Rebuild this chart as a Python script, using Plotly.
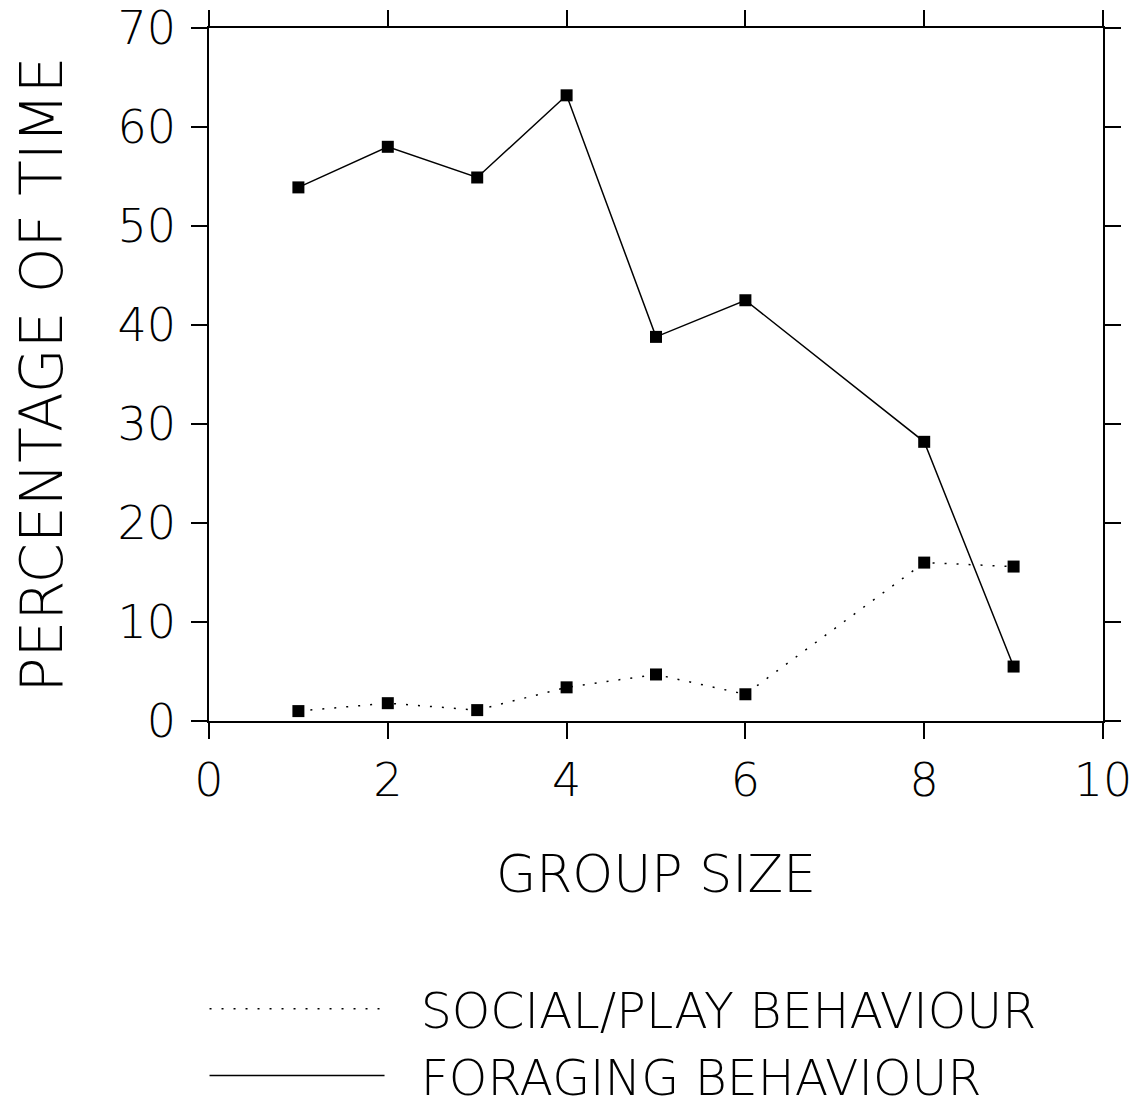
import plotly.graph_objects as go

group_size = [1, 2, 3, 4, 5, 6, 8, 9]
foraging = [53.9, 58.0, 54.9, 63.2, 38.8, 42.5, 28.2, 5.5]
social = [1.0, 1.8, 1.1, 3.4, 4.7, 2.7, 16.0, 15.6]
x_ticks = [0, 2, 4, 6, 8, 10]
y_ticks = [0, 10, 20, 30, 40, 50, 60, 70]

FONT = "DejaVu Sans"
W = 200
DOT = "2px,10px"
fig = go.Figure()

fig.add_trace(go.Scatter(x=group_size, y=foraging, mode="lines+markers",
                         line=dict(color="black", width=1.5),
                         marker=dict(symbol="square", size=12, color="black"),
                         showlegend=False))
fig.add_trace(go.Scatter(x=group_size, y=social, mode="lines+markers",
                         line=dict(color="black", width=1.5, dash=DOT),
                         marker=dict(symbol="square", size=12, color="black"),
                         showlegend=False))
# legend-only entries
fig.add_trace(go.Scatter(x=[None], y=[None], mode="lines", name="\u00a0\u00a0SOCIAL/PLAY BEHAVIOUR",
                         line=dict(color="black", width=1.5, dash=DOT)))
fig.add_trace(go.Scatter(x=[None], y=[None], mode="lines", name="\u00a0\u00a0FORAGING BEHAVIOUR",
                         line=dict(color="black", width=1.5)))

axis_common = dict(showline=True, linecolor="black", linewidth=1.5, mirror="ticks",
                   ticks="outside", ticklen=16, tickwidth=1.5, tickcolor="black",
                   showgrid=False, zeroline=False, automargin=False,
                   ticklabeloverflow="allow",
                   tickfont=dict(family=FONT, size=46, color="black", weight=W))

fig.update_xaxes(range=[0, 10], tickvals=x_ticks, ticktext=[str(v) for v in x_ticks],
                 ticklabelstandoff=2,
                 title=dict(text="GROUP SIZE", font=dict(family=FONT, size=52, color="black", weight=W),
                            standoff=50),
                 **axis_common)
fig.update_yaxes(range=[0, 70], tickvals=y_ticks, ticktext=[str(v) for v in y_ticks],
                 ticklabelstandoff=6,
                 title=dict(text="PERCENTAGE OF TIME", font=dict(family=FONT, size=58, color="black", weight=W),
                            standoff=44),
                 **axis_common)

fig.update_layout(
    width=1139, height=1111,
    margin=dict(l=201, r=44, t=20, b=398, autoexpand=False),
    plot_bgcolor="white", paper_bgcolor="white",
    font=dict(family=FONT, color="black", weight=W),
    legend=dict(x=-0.005, xanchor="left", y=-0.36, yanchor="top",
                itemwidth=175, tracegroupgap=0,
                font=dict(family=FONT, size=49, color="black", weight=W),
                bgcolor="rgba(0,0,0,0)"),
)

fig.write_html("out.html")
